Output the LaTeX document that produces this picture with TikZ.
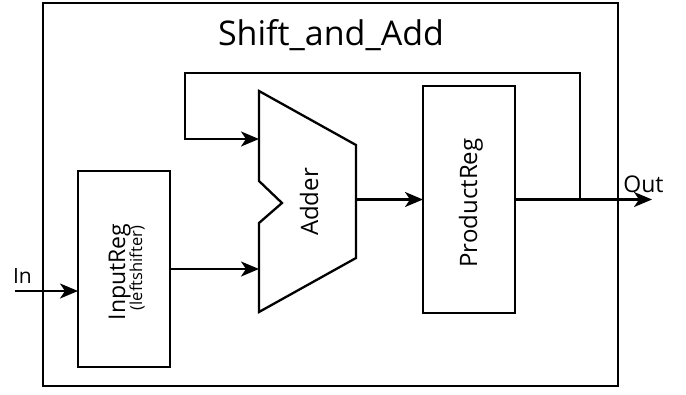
\documentclass[tikz,border=0pt]{standalone}
\usepackage{fontspec}
\setmainfont{Open Sans}
\usetikzlibrary{arrows.meta}
\tikzstyle{every node}=[inner sep=0pt, outer sep=0pt]
\tikzset{reg/.style={draw, line width=2.3pt, fill=white}}
\tikzset{wire/.style={line width=2.3pt, -{Stealth[length=18pt,width=15pt,inset=5pt]}}}
\tikzset{lbl/.style={font=\fontsize{24}{28}\selectfont, anchor=base}}

\begin{document}
\begin{tikzpicture}[x=1pt,y=-1pt,line join=miter]
    \useasboundingbox (0,0) rectangle (686,394);
    \draw[line width=2.6pt] (43,3) rectangle (618,386);
    \node[lbl, font=\fontsize{34}{40}\selectfont] (title) at (331,45) {Shift\_and\_Add};

    \node[reg, minimum width=92pt, minimum height=196pt] (inreg) at (124,269) {};
    \node[lbl, font=\fontsize{23}{26}\selectfont, rotate=90] (inregtxt) at (125,272) {InputReg};
    \node[lbl, font=\fontsize{16.5}{18}\selectfont, rotate=90] (inregsub) at (142,268) {(leftshifter)};

    \node[reg, minimum width=92pt, minimum height=227pt] (prodreg) at (469,199.5) {};
    \node[lbl, rotate=90] (prodregtxt) at (477,203) {ProductReg};

    \draw[reg] (259,91) -- (356,145) -- (356,258) -- (259,312) -- (259,223)
        -- (282,203) -- (259,181) -- cycle;
    \coordinate (addin1) at (259,139);
    \coordinate (addin2) at (259,269);
    \coordinate (addout) at (356,199.5);
    \node[lbl, rotate=90] (addertxt) at (318,202) {Adder};

    \coordinate (in) at (15,291);
    \coordinate (out) at (652,199.5);
    \coordinate (tap) at (580,199.5);
    \node[lbl, font=\fontsize{21}{24}\selectfont] (intxt) at (22.5,283) {In};
    \node[lbl, font=\fontsize{23}{26}\selectfont] (outtxt) at (643.5,192) {Out};

    \draw[wire] (in) -- (in -| inreg.west);
    \draw[wire] (inreg.east |- addin2) -- (addin2);
    \draw[wire] (addout) -- (prodreg.west);
    \draw[wire] (prodreg.east) -- (out);
    \draw[wire] (tap) -- (tap |- 0,73) -- (185,73) -- (185,139) -- (addin1);
\end{tikzpicture}
\end{document}
